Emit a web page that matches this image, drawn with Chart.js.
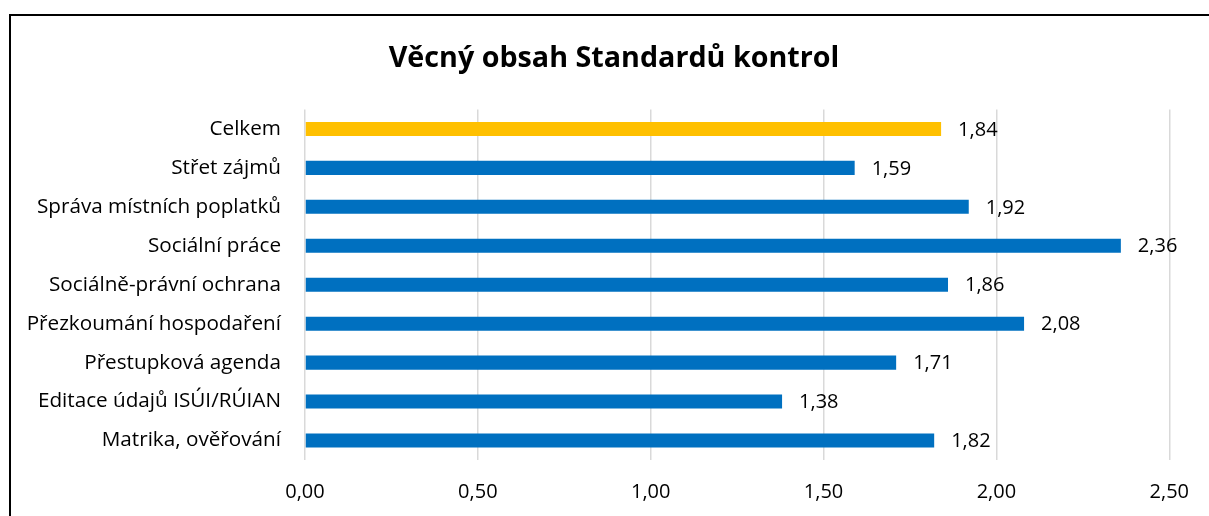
<!DOCTYPE html>
<html>
<head>
<meta charset="utf-8">
<script src="https://cdn.jsdelivr.net/npm/chart.js@4"></script>
<style>
  html, body { margin: 0; padding: 0; background: #fff; overflow: hidden; }
  #wrap { position: relative; width: 1209px; height: 516px; }
  #frame { position: absolute; left: 9px; top: 14px; width: 1300px; height: 600px; border: 2px solid #000; box-sizing: border-box; }
  canvas { position: absolute; left: 0; top: 0; }
</style>
</head>
<body>
<div id="wrap">
  <div id="frame"></div>
  <canvas id="chart" width="1209" height="516"></canvas>
</div>
<script>
const categories = [
  "Celkem",
  "Střet zájmů",
  "Správa místních poplatků",
  "Sociální práce",
  "Sociálně-právní ochrana",
  "Přezkoumání hospodaření",
  "Přestupková agenda",
  "Editace údajů ISÚI/RÚIAN",
  "Matrika, ověřování"
];
const scores = [1.84, 1.59, 1.92, 2.36, 1.86, 2.08, 1.71, 1.38, 1.82];
const barColors = ["#FFC000", "#0070C0", "#0070C0", "#0070C0", "#0070C0", "#0070C0", "#0070C0", "#0070C0", "#0070C0"];
const titleText = "Věcný obsah Standardů kontrol";

const fmt = (v) => v.toFixed(2).replace(".", ",");
const FONT = "'Open Sans', Lato, sans-serif";

// value labels at the end of each bar
const valueLabels = {
  id: "valueLabels",
  afterDatasetsDraw(chart) {
    const ctx = chart.ctx;
    const meta = chart.getDatasetMeta(0);
    ctx.save();
    ctx.font = "20px " + FONT;
    ctx.fillStyle = "#000";
    ctx.textAlign = "left";
    ctx.textBaseline = "middle";
    meta.data.forEach((bar, i) => {
      ctx.fillText(fmt(scores[i]), bar.x + 17, bar.y + 1);
    });
    ctx.restore();
  }
};

new Chart("chart", {
  type: "bar",
  data: {
    labels: categories,
    datasets: [{
      data: scores,
      backgroundColor: barColors,
      barPercentage: 0.36,
      categoryPercentage: 1
    }]
  },
  options: {
    indexAxis: "y",
    responsive: false,
    animation: false,
    layout: { padding: { left: 19, right: 0, top: 0, bottom: 0 } },
    plugins: {
      legend: { display: false },
      tooltip: { enabled: false },
      title: {
        display: true,
        text: titleText,
        color: "#000",
        font: { family: FONT, size: 28.7, weight: "bold", lineHeight: 1.2 },
        padding: { top: 42, bottom: 33 }
      }
    },
    scales: {
      x: {
        min: 0,
        max: 2.5,
        ticks: {
          stepSize: 0.5,
          color: "#000",
          padding: 20,
          font: { family: FONT, size: 20 },
          callback: (v) => fmt(v)
        },
        grid: { color: "#d9d9d9", lineWidth: 1.5, drawTicks: false },
        border: { display: false },
        afterFit(scale) { scale.height = 56; }
      },
      y: {
        ticks: {
          color: "#000",
          padding: 24,
          font: { family: FONT, size: 20.7 }
        },
        grid: { display: false, drawTicks: false },
        border: { display: false },
        afterFit(scale) { scale.width = 286; }
      },
      // empty right-hand axis, only reserves space right of the plot
      yRight: {
        position: "right",
        ticks: { display: false },
        grid: { display: false, drawTicks: false },
        border: { display: false },
        afterFit(scale) { scale.width = 39; }
      }
    }
  },
  plugins: [valueLabels]
});
</script>
</body>
</html>
